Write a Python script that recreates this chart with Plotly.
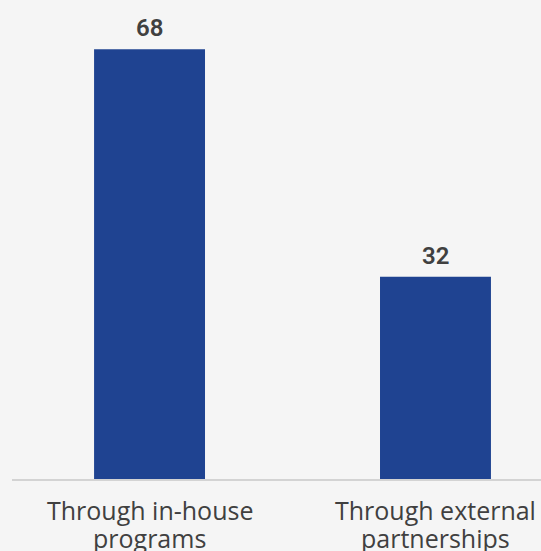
import plotly.graph_objects as go

# Share of training delivered, by channel
categories = ["Through in-house<br>programs", "Through external<br>partnerships"]
values = [68, 32]
value_labels = ["68", "32"]

BAR_COLOR = "#1f4391"
TEXT_COLOR = "#404040"
BG = "#f5f5f5"

fig = go.Figure(
    go.Bar(
        x=[0, 1],
        y=values,
        width=0.388,
        marker=dict(color=BAR_COLOR, line=dict(width=0)),
        hoverinfo="skip",
    )
)

# value labels above the bars
for i, (v, lab) in enumerate(zip(values, value_labels)):
    fig.add_annotation(
        x=i, y=v, text=lab, showarrow=False,
        yanchor="bottom", yshift=5,
        font=dict(family="Roboto", size=24, weight=600, color=TEXT_COLOR),
    )

# category labels under the axis, one annotation per line for tight leading
LINE_STEP = 28
FIRST_LINE = 31
for i, cat in enumerate(categories):
    for k, line in enumerate(cat.split("<br>")):
        fig.add_annotation(
            x=i, y=0, text=line, showarrow=False,
            yanchor="middle", yshift=-(FIRST_LINE + k * LINE_STEP),
            font=dict(family="Open Sans", size=25, color=TEXT_COLOR),
        )

fig.update_layout(
    width=541, height=551,
    margin=dict(l=12, r=0, t=5, b=72, autoexpand=False),
    paper_bgcolor=BG, plot_bgcolor=BG,
    showlegend=False,
    xaxis=dict(
        range=[-0.481, 1.369],
        tickmode="array", tickvals=[0, 1], showticklabels=False,
        showgrid=False, zeroline=False,
        showline=True, linecolor="#d3d3d3", linewidth=2,
        ticks="", automargin=False, fixedrange=True,
    ),
    yaxis=dict(
        range=[0, 75], visible=False, fixedrange=True, automargin=False,
    ),
)

fig.write_html("out.html")
